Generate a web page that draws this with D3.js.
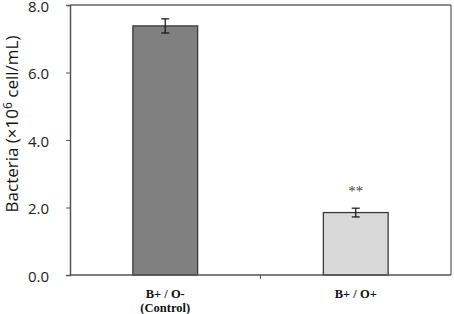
<!DOCTYPE html>
<html><head><meta charset="utf-8">
<script src="https://cdn.jsdelivr.net/npm/d3@7"></script>
<style>body{margin:0;background:#fff}svg{display:block}</style>
</head><body>
<script>
const categories = [["B+ / O-", "(Control)"], ["B+ / O+"]];
const values = [7.38, 1.85];
const errors = [0.21, 0.13];
const marks = ["", "**"];
const yTicks = [0, 2, 4, 6, 8];
const colors = ["#808080", "#d9d9d9"];

const W = 454, H = 314;
const m = {left: 70, right: 3, top: 5, bottom: 39};
const svg = d3.select("body").append("svg").attr("width", W).attr("height", H);

const x = d3.scaleBand().domain(d3.range(categories.length)).range([m.left, W - m.right]).padding(0);
const y = d3.scaleLinear().domain([0, 8]).range([H - m.bottom, m.top]);
const bw = x.bandwidth() * 0.34;

// frame
svg.append("line").attr("x1", m.left).attr("x2", W - m.right).attr("y1", y(8)).attr("y2", y(8)).attr("stroke", "#666").attr("stroke-width", 1.3);
svg.append("line").attr("x1", W - m.right).attr("x2", W - m.right).attr("y1", y(8)).attr("y2", y(0)).attr("stroke", "#666").attr("stroke-width", 1.3);

// y axis
const ya = svg.append("g").attr("transform", `translate(${m.left},0)`)
  .call(d3.axisLeft(y).tickValues(yTicks).tickFormat(d3.format(".1f")).tickSize(4).tickPadding(17));
ya.select(".domain").attr("stroke", "#555").attr("stroke-width", 1.5);
ya.selectAll(".tick line").attr("stroke", "#555");
ya.selectAll("text").attr("font-family", "'Open Sans', sans-serif").attr("font-size", 15).attr("fill", "#222").attr("dy", "0.42em");

// bars
const g = svg.append("g");
g.selectAll("rect").data(values).join("rect")
  .attr("x", (d, i) => x(i) + x.bandwidth() / 2 - bw / 2)
  .attr("width", bw)
  .attr("y", d => y(d))
  .attr("height", d => y(0) - y(d))
  .attr("fill", (d, i) => colors[i])
  .attr("stroke", "#3a3a3a").attr("stroke-width", 1.3);

// error bars
values.forEach((v, i) => {
  const cx = x(i) + x.bandwidth() / 2;
  const e = svg.append("g").attr("stroke", "#111").attr("stroke-width", 1.2);
  e.append("line").attr("x1", cx).attr("x2", cx).attr("y1", y(v + errors[i])).attr("y2", y(v - errors[i]));
  e.append("line").attr("x1", cx - 4).attr("x2", cx + 4).attr("y1", y(v + errors[i])).attr("y2", y(v + errors[i]));
  e.append("line").attr("x1", cx - 4).attr("x2", cx + 4).attr("y1", y(v - errors[i])).attr("y2", y(v - errors[i]));
  if (marks[i]) {
    svg.append("text").attr("x", cx).attr("y", y(v + errors[i]) - 12)
      .attr("text-anchor", "middle").attr("font-family", "'Liberation Serif', serif")
      .attr("font-size", 15).attr("fill", "#444").text(marks[i]);
  }
});

// x axis
const xa = svg.append("g").attr("transform", `translate(0,${y(0)})`);
xa.append("line").attr("x1", m.left).attr("x2", W - m.right).attr("stroke", "#555").attr("stroke-width", 1.5);
const bounds = d3.range(1, categories.length).map(i => x(i));
xa.selectAll(".tk").data(bounds).join("line").attr("x1", d => d).attr("x2", d => d).attr("y1", 0).attr("y2", 4).attr("stroke", "#555");
categories.forEach((lines, i) => {
  const cx = x(i) + x.bandwidth() / 2;
  lines.forEach((l, j) => xa.append("text").attr("text-anchor", "middle")
    .attr("font-family", "'Liberation Serif', 'Times New Roman', serif")
    .attr("font-weight", "bold").attr("font-size", 12.5).attr("fill", "#111")
    .attr("x", cx).attr("y", 22.5 + j * 14).text(l));
});

// y label
svg.append("text")
  .attr("transform", `translate(18,${(y(0) + y(8)) / 2 - 16}) rotate(-90)`)
  .attr("text-anchor", "middle")
  .attr("font-family", "'Open Sans', sans-serif").attr("font-size", 17).attr("fill", "#111")
  .call(t => {
    t.append("tspan").text("Bacteria (×10");
    t.append("tspan").attr("font-size", 12).attr("dy", -6).text("6");
    t.append("tspan").attr("dy", 6).text(" cell/mL)");
  });
</script>
</body></html>
